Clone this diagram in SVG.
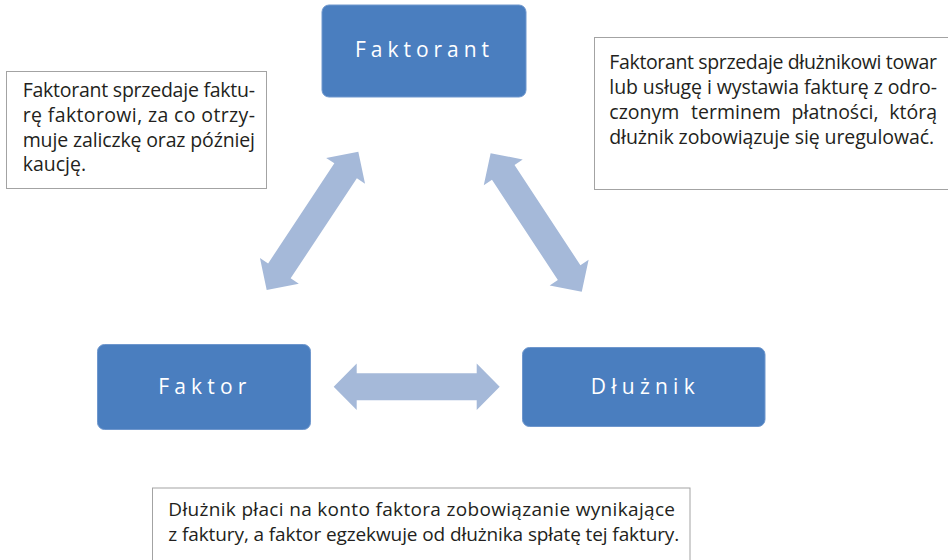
<svg xmlns="http://www.w3.org/2000/svg" width="948" height="560" viewBox="0 0 948 560">
  <style>
    .node rect { fill: #4a7ebf; stroke: #6f97cd; stroke-width: 1; }
    .node text { fill: #ffffff; font-family: "Open Sans", "Noto Sans", sans-serif; font-size: 21px; }
    .note rect { fill: #ffffff; stroke: #a3a3a3; stroke-width: 1; }
    .note text { fill: #231f20; font-family: "Open Sans", "Noto Sans", sans-serif; font-size: 19.5px; }
    .note text.small { font-size: 19px; }
    .link { fill: #a5b9d9; }
  </style>
  <defs>
    <!-- double-headed block arrow, centred on the origin, pointing along x -->
    <path id="dbl-arrow" d="M-83,0 L-60,-23.3 L-60,-13.5 L60,-13.5 L60,-23.3 L83,0 L60,23.3 L60,13.5 L-60,13.5 L-60,23.3 Z"/>
  </defs>
  <rect width="948" height="560" fill="#ffffff"/>

  <g id="connectors">
    <use href="#dbl-arrow" class="link" transform="translate(312.5 220.85) rotate(-56.5)"/>
    <use href="#dbl-arrow" class="link" transform="translate(536.2 222.5) rotate(56.7)"/>
    <use href="#dbl-arrow" class="link" transform="translate(416.7 386.7)"/>
  </g>

  <g id="faktorant" class="node">
    <rect x="322" y="5" width="204" height="92" rx="7"/>
    <text x="355" y="57.3" textLength="134" lengthAdjust="spacing">Faktorant</text>
  </g>

  <g id="faktor" class="node">
    <rect x="97.5" y="344.5" width="213" height="85" rx="7"/>
    <text x="158.3" y="394" textLength="88" lengthAdjust="spacing">Faktor</text>
  </g>

  <g id="dluznik" class="node">
    <rect x="522.5" y="347.5" width="242.5" height="79" rx="7"/>
    <text x="590.7" y="394" textLength="104" lengthAdjust="spacing">Dłużnik</text>
  </g>

  <g id="note-faktor" class="note">
    <rect x="6.5" y="71.5" width="260" height="117"/>
    <text x="22.7" y="97" textLength="232.3" lengthAdjust="spacing">Faktorant sprzedaje faktu-</text>
    <text x="22.7" y="121.8" textLength="232.3" lengthAdjust="spacing">rę faktorowi, za co otrzy-</text>
    <text x="22.7" y="146.6" textLength="232.3" lengthAdjust="spacing">muje zaliczkę oraz później</text>
    <text x="22.7" y="171.4">kaucję.</text>
  </g>

  <g id="note-sprzedaz" class="note">
    <rect x="594.5" y="37.5" width="360" height="152"/>
    <text x="609.3" y="68.5" textLength="327.7" lengthAdjust="spacing">Faktorant sprzedaje dłużnikowi towar</text>
    <text x="609.3" y="94" textLength="327.7" lengthAdjust="spacing">lub usługę i wystawia fakturę z odro-</text>
    <text y="119"><tspan x="609.3">czonym</tspan><tspan x="736" text-anchor="middle">terminem</tspan><tspan x="835" text-anchor="middle">płatności,</tspan><tspan x="937" text-anchor="end">którą</tspan></text>
    <text x="609.3" y="144" textLength="324.7" lengthAdjust="spacing">dłużnik zobowiązuje się uregulować.</text>
  </g>

  <g id="note-splata" class="note">
    <rect x="152.5" y="488" width="537.5" height="80"/>
    <text class="small" x="168.3" y="515.5" textLength="506.7" lengthAdjust="spacing">Dłużnik płaci na konto faktora zobowiązanie wynikające</text>
    <text class="small" x="168.3" y="540.5" textLength="511" lengthAdjust="spacing">z faktury, a faktor egzekwuje od dłużnika spłatę tej faktury.</text>
  </g>
</svg>
